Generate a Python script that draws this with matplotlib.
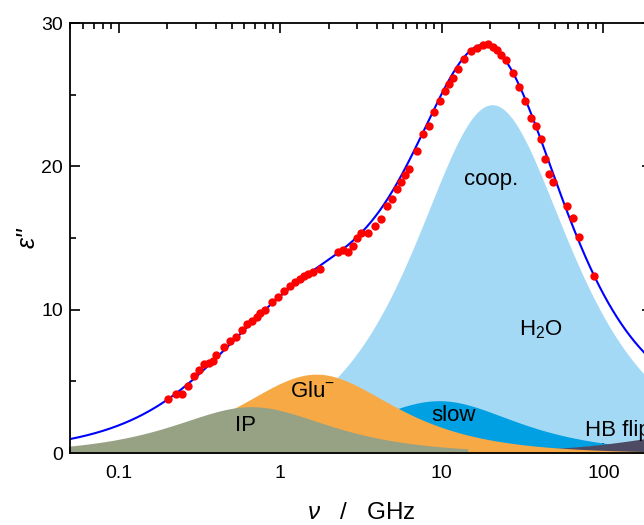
import numpy as np
import matplotlib
matplotlib.use("Agg")
import matplotlib.pyplot as plt
from matplotlib.ticker import FixedLocator, FixedFormatter, NullFormatter

plt.rcParams['font.family'] = ['Liberation Sans', 'DejaVu Sans']
plt.rcParams['mathtext.fontset'] = 'custom'
plt.rcParams['mathtext.rm'] = 'Liberation Sans'
plt.rcParams['mathtext.it'] = 'Liberation Sans:italic'

# ---- measured data (frequency in GHz, dielectric loss) ----
freq_data = [0.202, 0.225, 0.248, 0.269, 0.291, 0.314, 0.336, 0.361, 0.381, 0.402,
             0.446, 0.491, 0.535, 0.580, 0.625, 0.671, 0.714, 0.752, 0.800, 0.889,
             0.972, 1.063, 1.153, 1.242, 1.324, 1.407, 1.496, 1.589, 1.763, 2.285,
             2.459, 2.645, 2.817, 2.985, 3.17, 3.50, 3.86, 4.21, 4.57, 4.91,
             5.25, 5.60, 5.93, 6.30, 6.98, 7.66, 8.38, 9.00, 9.76, 10.44,
             11.14, 11.80, 12.56, 13.80, 15.18, 16.53, 18.08, 19.42, 20.66, 22.07,
             23.27, 24.88, 27.60, 30.14, 32.83, 35.66, 38.30, 41.12, 43.71, 46.29,
             48.98, 59.30, 64.6, 70.3, 87.1]
eps_data = [3.77, 4.13, 4.14, 4.70, 5.39, 5.79, 6.20, 6.28, 6.45, 6.84,
            7.42, 7.81, 8.11, 8.58, 8.98, 9.23, 9.51, 9.75, 9.98, 10.54,
            10.88, 11.32, 11.65, 11.91, 12.14, 12.35, 12.52, 12.66, 12.82, 13.99,
            14.16, 13.99, 14.46, 14.97, 15.35, 15.38, 15.86, 16.36, 17.25, 17.72,
            18.43, 18.92, 19.40, 19.79, 21.07, 22.24, 22.84, 23.79, 24.54, 25.28,
            25.77, 26.18, 26.79, 27.49, 28.07, 28.28, 28.47, 28.51, 28.35, 28.12,
            27.79, 27.42, 26.53, 25.56, 24.56, 23.39, 22.84, 21.89, 20.49, 19.47,
            18.93, 17.23, 16.42, 15.09, 12.35]

# ---- relaxation components (Debye): peak frequency (GHz) and peak height ----
comp_names = ["IP", "Glu-", "coop.", "slow", "HB flip"]
comp_peak_freq = [0.66, 1.67, 20.5, 9.6, 450.0]
comp_peak_height = [3.23, 5.5, 24.3, 3.65, 1.45]
comp_colors = ["#97A183", "#F6A945", "#A4D9F6", "#00A0E3", "#4D4B63"]
ip_upper_freq = 14.5   # IP band drawn up to this frequency

f = np.logspace(np.log10(0.05), np.log10(200), 800)

def debye_loss(fr, f0, h):
    r = fr / f0
    return 2 * h * r / (1 + r ** 2)

comps = {n: debye_loss(f, f0, h) for n, f0, h in zip(comp_names, comp_peak_freq, comp_peak_height)}
total = sum(comps.values())

W, H = 644, 525
fig = plt.figure(figsize=(W / 100, H / 100), dpi=100)
ax = fig.add_axes([70 / W, (H - 453) / H, 582 / W, 430 / H])

colors = dict(zip(comp_names, comp_colors))
ax.fill_between(f, 0, comps["coop."], color=colors["coop."], lw=0, zorder=1)
ax.fill_between(f, 0, comps["slow"], color=colors["slow"], lw=0, zorder=2)
ax.fill_between(f, 0, comps["HB flip"], color=colors["HB flip"], lw=0, zorder=3)
ax.fill_between(f, 0, comps["Glu-"], color=colors["Glu-"], lw=0, zorder=4)
m = f <= ip_upper_freq
ax.fill_between(f[m], 0, comps["IP"][m], color=colors["IP"], lw=0, zorder=5)

ax.plot(f, total, color="#0000FF", lw=1.5, zorder=6)
ax.plot(freq_data, eps_data, 'o', color="#FF0000", ms=6.0, mew=0, zorder=7)

ax.set_xscale('log')
ax.set_xlim(0.05, 200)
ax.set_ylim(0, 30)

ax.xaxis.set_major_locator(FixedLocator([0.1, 1, 10, 100]))
ax.xaxis.set_major_formatter(FixedFormatter(["0.1", "1", "10", "100"]))
minors = [k * 10.0 ** e for e in range(-2, 3) for k in range(2, 10)]
ax.xaxis.set_minor_locator(FixedLocator(minors))
ax.xaxis.set_minor_formatter(NullFormatter())
ax.yaxis.set_major_locator(FixedLocator([0, 10, 20, 30]))
ax.yaxis.set_minor_locator(FixedLocator([5, 15, 25]))

ax.tick_params(which='both', direction='in', top=True, right=True, width=1.2,
               labelsize=14, colors='black')
ax.tick_params(which='major', length=7)
ax.tick_params(which='minor', length=4)
ax.tick_params(axis='x', which='major', pad=9)
ax.tick_params(axis='y', which='major', pad=5)
for s in ax.spines.values():
    s.set_linewidth(1.3)
    s.set_zorder(10)

ax.set_xlabel(r"$\nu$   /   GHz", fontsize=17.5, labelpad=14)
ax.set_ylabel("ε''", fontsize=18, style='italic', labelpad=1)

ts = 16
ax.text(20.3, 19.05, "coop.", ha='center', va='center', fontsize=ts, zorder=8)
ax.text(41.1, 8.6, r"H$_2$O", ha='center', va='center', fontsize=ts, zorder=8)
ax.text(1.58, 4.26, r"Glu$^{-}$", ha='center', va='center', fontsize=ts, zorder=8)
ax.text(0.607, 1.95, "IP", ha='center', va='center', fontsize=ts, zorder=8)
ax.text(11.9, 2.65, "slow", ha='center', va='center', fontsize=ts, zorder=8)
ax.text(77.0, 1.6, "HB flip", ha='left', va='center', fontsize=ts, zorder=8)

fig.savefig("out.png", dpi=100)
